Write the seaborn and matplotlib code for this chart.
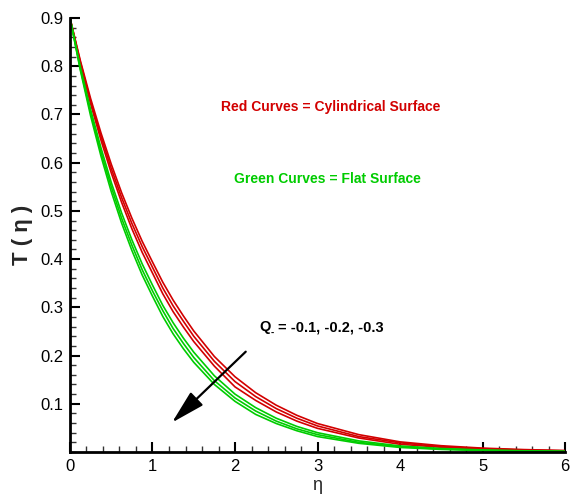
import numpy as np
import pandas as pd
import matplotlib
matplotlib.use("Agg")
import matplotlib.pyplot as plt
from matplotlib.ticker import MultipleLocator, FixedLocator
import seaborn as sns

eta = [0, 0.125, 0.25, 0.375, 0.5, 0.625, 0.75, 0.875, 1.0, 1.125, 1.25, 1.375, 1.5,
       1.75, 2.0, 2.25, 2.5, 2.75, 3.0, 3.5, 4.0, 4.5, 5.0, 5.5, 6.0]

red_q1 = [0.900, 0.812, 0.733, 0.662, 0.597, 0.538, 0.485, 0.437, 0.394, 0.352,
          0.315, 0.282, 0.251, 0.198, 0.156, 0.123, 0.097, 0.076, 0.059,
          0.036, 0.021, 0.013, 0.008, 0.005, 0.003]
red_q2 = [0.900, 0.809, 0.727, 0.655, 0.588, 0.528, 0.474, 0.426, 0.383, 0.340,
          0.303, 0.271, 0.240, 0.188, 0.146, 0.115, 0.090, 0.070, 0.054,
          0.032, 0.019, 0.011, 0.007, 0.004, 0.0025]
red_q3 = [0.900, 0.806, 0.722, 0.647, 0.579, 0.518, 0.463, 0.414, 0.371, 0.328,
          0.291, 0.259, 0.229, 0.178, 0.135, 0.107, 0.083, 0.064, 0.049,
          0.029, 0.016, 0.0098, 0.006, 0.0035, 0.002]
green_q1 = [0.900, 0.799, 0.710, 0.631, 0.559, 0.496, 0.440, 0.390, 0.346, 0.304,
            0.268, 0.236, 0.207, 0.158, 0.120, 0.092, 0.070, 0.053, 0.040,
            0.023, 0.0125, 0.0072, 0.0042, 0.0024, 0.0014]
green_q2 = [0.900, 0.795, 0.704, 0.622, 0.550, 0.485, 0.429, 0.378, 0.334, 0.293,
            0.256, 0.225, 0.196, 0.148, 0.112, 0.085, 0.064, 0.048, 0.036,
            0.020, 0.011, 0.0062, 0.0035, 0.002, 0.0011]
green_q3 = [0.900, 0.792, 0.697, 0.614, 0.540, 0.475, 0.418, 0.367, 0.323, 0.281,
            0.245, 0.214, 0.186, 0.140, 0.105, 0.078, 0.059, 0.044, 0.032,
            0.018, 0.0094, 0.0053, 0.0029, 0.0017, 0.0009]

series = {
    "red_q1": red_q1, "red_q2": red_q2, "red_q3": red_q3,
    "green_q1": green_q1, "green_q2": green_q2, "green_q3": green_q3,
}
RED = "#d20000"
GREEN = "#00cc00"
palette = {k: (RED if k.startswith("red") else GREEN) for k in series}

rows = []
for name, vals in series.items():
    for x, y in zip(eta, vals):
        rows.append({"eta": x, "T": y, "curve": name})
df = pd.DataFrame(rows)

sns.set_style("ticks")
plt.rcParams["font.family"] = ["Liberation Sans", "DejaVu Sans"]

fig = plt.figure(figsize=(5.76, 4.95), dpi=100)
ax = fig.add_axes([0.1215, 0.0869, 0.8595, 0.8767])

sns.lineplot(data=df, x="eta", y="T", hue="curve", palette=palette,
             linewidth=1.2, legend=False, ax=ax, sort=False)

ax.set_xlim(0, 6)
ax.set_ylim(0, 0.9)
ax.xaxis.set_major_locator(FixedLocator([0, 1, 2, 3, 4, 5, 6]))
ax.xaxis.set_minor_locator(MultipleLocator(0.2))
ax.yaxis.set_major_locator(FixedLocator([0.1, 0.2, 0.3, 0.4, 0.5, 0.6, 0.7, 0.8, 0.9]))
ax.yaxis.set_minor_locator(MultipleLocator(0.02))
ax.set_yticklabels(["0.1", "0.2", "0.3", "0.4", "0.5", "0.6", "0.7", "0.8", "0.9"])
ax.tick_params(which="major", direction="in", length=7, width=1.5, labelsize=12,
               colors="black", pad=5)
ax.tick_params(which="minor", direction="in", length=4, width=1.0, colors="#333333")
for s in ["top", "right"]:
    ax.spines[s].set_visible(False)
for s in ["left", "bottom"]:
    ax.spines[s].set_linewidth(2)
    ax.spines[s].set_color("black")

ax.set_xlabel("η", fontsize=13, labelpad=2)
ax.set_ylabel("T ( η )", fontsize=16, fontweight="bold", labelpad=5)

ax.text(0.527, 0.796, "Red Curves = Cylindrical Surface", transform=ax.transAxes,
        color=RED, fontsize=10, fontweight="bold", ha="center", va="center")
ax.text(0.520, 0.628, "Green Curves = Flat Surface", transform=ax.transAxes,
        color=GREEN, fontsize=10, fontweight="bold", ha="center", va="center")

ax.text(0.382, 0.288, "Q", transform=ax.transAxes, color="black",
        fontsize=10.5, fontweight="bold", ha="left", va="center")
ax.text(0.405, 0.274, "-", transform=ax.transAxes, color="black",
        fontsize=7, fontweight="bold", ha="left", va="center")
ax.text(0.420, 0.288, "= -0.1, -0.2, -0.3", transform=ax.transAxes, color="black",
        fontsize=10.5, fontweight="bold", ha="left", va="center")

ax.annotate("", xy=(1.236, 0.061), xytext=(2.13, 0.208),
            arrowprops=dict(arrowstyle="-|>,head_length=2.1,head_width=0.55",
                            color="black", lw=1.6, shrinkA=0, shrinkB=0))

fig.savefig("out.png", dpi=100)
